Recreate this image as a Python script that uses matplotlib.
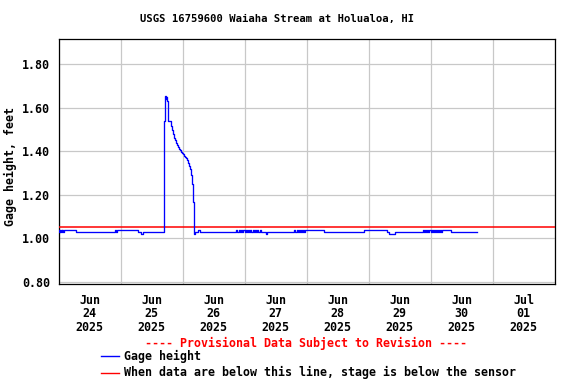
#!/usr/bin/env python3
# USGS-style gage height plot for Waiaha Stream, Jun 24 - Jul 1 2025.

import matplotlib
matplotlib.use('Agg')
import matplotlib.pyplot as plt
import matplotlib.dates as mdates
from matplotlib.lines import Line2D
import pandas as pd

# breakpoints of the stepped record: hours after 2025-06-24 00:00, gage height in feet
hours = [0.0, 0.25, 0.5, 0.75, 1.0, 1.25, 1.5, 1.75, 2.0,
         6.6, 21.9, 22.3, 22.8, 30.8, 32.0, 32.8,
         41.02, 41.28, 41.5, 41.7, 41.9, 42.19, 42.57, 43.73, 43.99, 44.38, 44.77,
         45.15, 45.54, 45.93, 46.31, 46.70, 47.09, 47.48, 47.86, 48.25, 48.64,
         49.02, 49.41, 49.80, 50.19, 50.57, 50.96, 51.35, 51.73, 52.12, 52.51,
         52.90, 54.0, 54.6,
         68.6, 69.0, 69.7, 70.2, 70.6, 71.1, 71.5, 72.0, 72.4, 72.9, 73.3, 73.8,
         74.2, 74.7, 75.1, 75.6, 76.0, 76.5, 76.9, 77.4, 77.8, 78.2,
         80.3, 80.6, 91.2, 91.5, 92.2, 92.6, 93.0, 93.4, 93.8, 94.2, 94.6, 95.0,
         95.4, 102.8, 118.2, 127.2, 128.0, 130.2,
         141.2, 141.6, 142.0, 142.4, 142.8, 143.2, 143.6, 144.0, 144.4, 144.8,
         145.2, 145.6, 146.0, 146.4, 146.8, 147.2, 147.6, 148.0, 148.3,
         151.9, 161.9]
stage = [1.04, 1.03, 1.04, 1.03, 1.04, 1.03, 1.04, 1.03, 1.04,
         1.03, 1.04, 1.03, 1.04, 1.03, 1.02, 1.03,
         1.538, 1.653, 1.64, 1.65, 1.63, 1.58, 1.54, 1.515, 1.495, 1.48, 1.462,
         1.45, 1.437, 1.427, 1.417, 1.408, 1.404, 1.398, 1.391, 1.385, 1.379,
         1.375, 1.367, 1.358, 1.347, 1.333, 1.318, 1.289, 1.248, 1.167, 1.02,
         1.03, 1.04, 1.03,
         1.04, 1.03, 1.04, 1.03, 1.04, 1.03, 1.04, 1.03, 1.04, 1.03, 1.04, 1.03,
         1.04, 1.03, 1.04, 1.03, 1.04, 1.03, 1.04, 1.03, 1.04, 1.03,
         1.02, 1.03, 1.04, 1.03, 1.04, 1.03, 1.04, 1.03, 1.04, 1.03, 1.04, 1.03,
         1.04, 1.03, 1.04, 1.03, 1.02, 1.03,
         1.04, 1.03, 1.04, 1.03, 1.04, 1.03, 1.04, 1.03, 1.04, 1.03,
         1.04, 1.03, 1.04, 1.03, 1.04, 1.03, 1.04, 1.03, 1.04,
         1.03, 1.03]

sensorLevel = 1.05
yTicks = [0.80, 1.00, 1.20, 1.40, 1.60, 1.80]
startDay = '2025-06-24'
endDay = '2025-07-02'

times = pd.Timestamp(startDay) + pd.to_timedelta(hours, unit='h')

matplotlib.rc('font', family='DejaVu Sans Mono', weight='bold', size=8.35)

fig = plt.figure(figsize=(5.76, 3.84), dpi=100)
ax = fig.add_axes([0.1016, 0.2604, 0.8611, 0.6380])

ax.axhline(sensorLevel, color='#ff0000', linewidth=1.1, zorder=3)
ax.step(times, stage, where='post', color='#0000ff', linewidth=0.95, zorder=4)

ax.set_xlim(pd.Timestamp(startDay), pd.Timestamp(endDay))
ax.set_ylim(0.79, 1.915)
ax.set_yticks(yTicks)
ax.set_yticklabels(['{0:.2f}'.format(v) for v in yTicks])

ax.xaxis.set_major_locator(mdates.DayLocator())
ax.xaxis.set_major_formatter(plt.NullFormatter())
ax.xaxis.set_minor_locator(mdates.HourLocator(byhour=[12]))
ax.xaxis.set_minor_formatter(mdates.DateFormatter('%b\n%d\n%Y'))
ax.tick_params(axis='x', which='both', length=0, pad=7)
ax.tick_params(axis='y', length=0, pad=6)
for label in ax.get_xticklabels(minor=True):
    label.set_linespacing(1.05)

ax.grid(True, which='major', color='#c8c8c8', linewidth=0.9)
ax.set_axisbelow(True)
for spine in ax.spines.values():
    spine.set_color('black')
    spine.set_linewidth(0.9)

fig.text(0.4816, 0.9505, 'USGS 16759600 Waiaha Stream at Holualoa, HI',
         ha='center', va='center', fontsize=7.6)
fig.text(0.019, 0.566, 'Gage height, feet', rotation=90, ha='center', va='center')

fig.text(0.5307, 0.1068, '---- Provisional Data Subject to Revision ----',
         ha='center', va='center', color='#ff0000')
fig.add_artist(Line2D([0.1753, 0.2066], [0.0721, 0.0721], color='#0000ff', linewidth=1.0))
fig.text(0.2158, 0.0721, 'Gage height', ha='left', va='center')
fig.add_artist(Line2D([0.1753, 0.2066], [0.0294, 0.0294], color='#ff0000', linewidth=1.0))
fig.text(0.2158, 0.0294, 'When data are below this line, stage is below the sensor',
         ha='left', va='center')

fig.savefig('out.png', dpi=100)
